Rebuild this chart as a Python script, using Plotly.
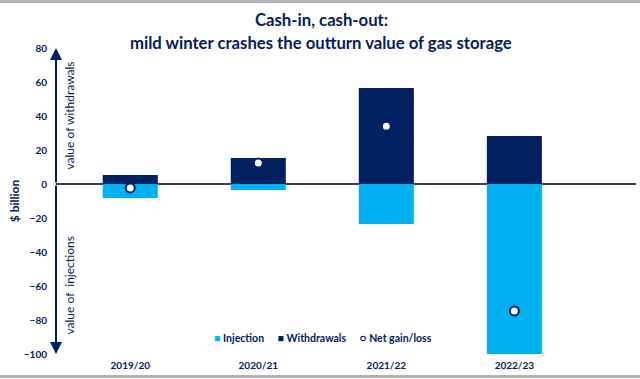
import plotly.graph_objects as go

seasons = ["2019/20", "2020/21", "2021/22", "2022/23"]
injection = [-8.2, -3.5, -23.5, -100.5]
withdrawals = [5.3, 15.3, 56.5, 28.2]
net = [-2.3, 12.4, 34.0, -74.7]
title_lines = ["Cash-in, cash-out:", "mild winter crashes the outturn value of gas storage"]

navy = "#002060"
light = "#00B0F0"
FONT = "Lato"

fig = go.Figure()
fig.add_trace(go.Bar(x=seasons, y=injection, name="Injection", marker_color=light,
                     width=0.43, marker_line_width=0))
fig.add_trace(go.Bar(x=seasons, y=withdrawals, name="Withdrawals", marker_color=navy,
                     width=0.43, marker_line_width=0))
fig.add_trace(go.Scatter(x=seasons, y=net, name="Net gain/loss", mode="markers",
                         marker=dict(symbol="circle", size=9, color="white",
                                     line=dict(color=navy, width=2))))

W, H = 640, 379
ml, mr, mt, mb = 56, 4, 48, 25
ph = H - mt - mb
pw = W - ml - mr

def py(pix):
    return (H - mb - pix) / ph

def px(pix):
    return (pix - ml) / pw

fig.update_layout(
    width=W, height=H,
    margin=dict(l=ml, r=mr, t=mt, b=mb),
    paper_bgcolor="white", plot_bgcolor="white",
    barmode="overlay",
    font=dict(family=FONT, color=navy, size=10),
    showlegend=False,
    xaxis=dict(type="category", range=[-0.58, 3.95], showgrid=False, showline=False,
               zeroline=False, ticks="", tickfont=dict(size=10, color=navy, family=FONT, weight="bold"),
               ticklabelstandoff=4),
    yaxis=dict(range=[-100, 80], tickvals=[-100, -80, -60, -40, -20, 0, 20, 40, 60, 80],
               showgrid=False, showline=False, zeroline=True, zerolinecolor="#404040",
               zerolinewidth=2, ticks="", ticklabelstandoff=8,
               tickfont=dict(size=10, color=navy, family=FONT, weight="bold"),
               title=dict(text="<b>$ billion</b>", font=dict(size=12, color=navy, family=FONT),
                          standoff=1)),
)

# title lines
for txt, pix in zip(title_lines, (20, 43)):
    fig.add_annotation(x=px(321), xref="paper", y=py(pix), yref="paper", text="<b>%s</b>" % txt,
                       showarrow=False, xanchor="center", yanchor="middle",
                       font=dict(size=16.7, color=navy, family=FONT))

# legend (text row)
gap = "&nbsp;" * 5
legend_txt = ("<span style='color:%s'>■</span>&nbsp;<b>Injection</b>%s"
              "<span style='color:%s'>■</span>&nbsp;<b>Withdrawals</b>%s"
              "<span style='color:%s'><b>○</b></span>&nbsp;<b>Net gain/loss</b>") % (
    light, gap, navy, gap, navy)
fig.add_annotation(x=px(323), xref="paper", y=py(338), yref="paper", text=legend_txt,
                   showarrow=False, xanchor="center", yanchor="middle",
                   font=dict(size=10.5, color=navy, family=FONT))

# axis arrows
for tip in (80, -100):
    fig.add_annotation(x=0, xref="paper", y=tip, yref="y", ax=0, axref="pixel",
                       ay=0, ayref="y", text="", showarrow=True, arrowhead=2,
                       arrowsize=1.2, arrowwidth=2, arrowcolor=navy)

fig.add_annotation(x=0, xref="paper", xshift=3, y=40, yref="y", text="value of withdrawals",
                   textangle=-90, showarrow=False, font=dict(size=12, color=navy, family=FONT))
fig.add_annotation(x=0, xref="paper", xshift=3, y=-60, yref="y", text="value of  injections",
                   textangle=-90, showarrow=False, font=dict(size=12, color=navy, family=FONT))

# thin grey frame lines at top and bottom of the image
for pix in (1.5, 376.5):
    fig.add_shape(type="line", xref="paper", yref="paper", x0=px(0), x1=px(W),
                  y0=py(pix), y1=py(pix), line=dict(color="#B4B4B4", width=3))

fig.write_html("out.html", post_script="document.body.style.margin='0';",
               config={"displayModeBar": False})
